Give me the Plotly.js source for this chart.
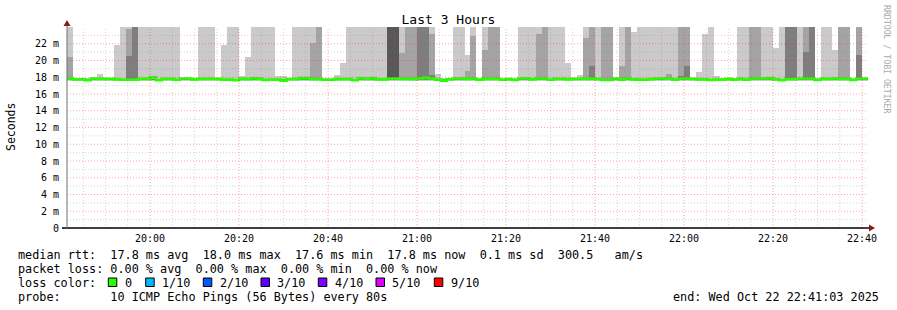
<!DOCTYPE html>
<html><head><meta charset="utf-8">
<script src="https://cdn.plot.ly/plotly-3.0.1.min.js"></script>
<style>html,body{margin:0;padding:0;background:#fff}#chart{width:897px;height:310px}</style>
</head><body><div id="chart"></div>
<script>
// ---------------- data ----------------
const chartDate = '2025-10-22';
const firstColumnStart = '19:41:20';
const stepSeconds = 80;
const columnCount = 135;

// median RTT per 80 s step (ms)
const medianRtt = [
 17.85,17.75,17.75,17.65,17.85,17.8,17.8,17.8,17.75,17.7,17.7,17.7,17.8,17.8,18.0,
 17.65,17.8,17.8,17.7,17.85,17.85,17.75,17.8,17.8,17.8,17.8,17.72,17.72,17.65,17.8,
 17.78,17.88,17.8,17.68,17.72,17.72,17.6,17.78,17.78,17.9,17.9,17.78,17.78,17.7,17.7,
 17.78,17.78,17.78,17.65,17.88,17.8,17.9,17.75,17.75,17.85,17.85,17.8,17.8,17.78,17.88,
 17.95,17.85,17.72,17.6,17.75,17.85,17.85,17.8,17.85,17.7,17.8,17.8,17.8,17.7,17.78,
 17.68,17.85,17.85,17.75,17.85,17.85,17.7,17.8,17.8,17.75,17.8,17.8,17.8,17.85,17.78,
 17.68,17.68,17.85,17.72,17.85,17.75,17.72,17.72,17.78,17.85,17.85,17.82,17.72,17.85,17.85,
 17.8,17.75,17.75,17.68,17.72,17.72,17.8,17.72,17.8,17.72,17.85,17.85,17.85,17.9,17.75,
 17.65,17.78,17.78,17.85,17.85,17.85,17.68,17.8,17.8,17.85,17.8,17.8,17.68,17.85,17.85
];
// slowest ping (10th of 10), ms
const ping10 = [
 30,17.95,17.95,17.95,17.95,18.4,17.95,17.95,21.9,30,30,30,30,30,30,
 30,30,30,30,17.95,17.95,17.95,30,30,30,17.95,21.8,30,30,18.2,
 20.4,30,30,30,30,18.1,18.1,17.95,30,30,30,30,30,17.95,17.95,
 18.3,19.7,30,30,30,30,30,30,30,30,30,30,30,30,30,
 30,30,18.4,17.95,17.95,30,30,20.6,30,17.95,30,30,30,17.95,17.95,
 17.95,30,30,30,30,30,30,30,30,19.7,17.95,18.3,30,30,30,
 30,30,17.95,30,30,23.4,30,30,30,30,30,30,30,30,30,
 17.95,18.65,23.2,30,18.1,17.95,17.95,17.95,30,30,30,30,30,30,21.5,
 30,30,30,30,30,30,17.95,30,30,21.2,30,30,17.95,30,17.95
];
// 9th ping, ms
const ping9 = [
 20.4,17.85,17.85,17.85,17.85,17.85,17.85,17.85,17.85,17.85,23.8,30,17.85,17.85,17.85,
 17.85,17.85,17.85,17.85,17.85,17.85,17.85,17.85,17.85,17.85,17.85,17.85,17.85,17.85,17.85,
 17.85,17.85,17.85,17.85,17.85,17.85,17.85,17.85,17.85,17.85,17.85,22.1,30,17.85,17.85,
 17.85,17.85,17.85,17.85,17.85,17.85,17.85,17.85,17.85,30,30,20.9,30,30,30,
 30,23.2,17.85,17.85,17.85,17.85,17.85,18.7,22.9,17.85,21.3,30,30,17.85,17.85,
 17.85,17.85,17.85,17.85,23.2,30,17.85,17.85,17.85,17.85,17.85,17.85,22.7,30,17.85,
 30,30,17.85,19.4,30,17.85,17.85,17.85,17.85,17.85,17.85,18.4,17.85,30,30,
 17.85,17.85,17.85,17.85,17.85,17.85,17.85,17.85,17.85,17.85,30,30,17.85,17.85,17.85,
 17.85,30,30,17.85,30,30,17.85,17.85,17.85,17.85,30,30,17.85,30,17.85
];
// 8th ping, ms
const ping8 = [
 17.8,17.8,17.8,17.8,17.8,17.8,17.8,17.8,17.8,17.8,20.5,30,17.8,17.8,17.8,
 17.8,17.8,17.8,17.8,17.8,17.8,17.8,17.8,17.8,17.8,17.8,17.8,17.8,17.8,17.8,
 17.8,17.8,17.8,17.8,17.8,17.8,17.8,17.8,17.8,17.8,17.8,17.8,17.8,17.8,17.8,
 17.8,17.8,17.8,17.8,17.8,17.8,17.8,17.8,17.8,30,30,17.8,17.8,17.8,30,
 30,18.3,17.8,17.8,17.8,17.8,17.8,17.8,17.8,17.8,17.8,17.8,17.8,17.8,17.8,
 17.8,17.8,17.8,17.8,17.8,17.8,17.8,17.8,17.8,17.8,17.8,17.8,17.8,19.3,17.8,
 17.8,17.8,17.8,17.8,17.8,17.8,17.8,17.8,17.8,17.8,17.8,17.8,17.8,18.2,19.3,
 17.8,17.8,17.8,17.8,17.8,17.8,17.8,17.8,17.8,17.8,17.8,17.8,17.8,17.8,17.8,
 17.8,30,30,17.8,21.0,30,17.8,17.8,17.8,17.8,17.8,17.8,17.8,20.6,17.8
];
// 7th ping, ms
const ping7 = [
 17.78,17.78,17.78,17.78,17.78,17.78,17.78,17.78,17.78,17.78,17.78,17.78,17.78,17.78,17.78,
 17.78,17.78,17.78,17.78,17.78,17.78,17.78,17.78,17.78,17.78,17.78,17.78,17.78,17.78,17.78,
 17.78,17.78,17.78,17.78,17.78,17.78,17.78,17.78,17.78,17.78,17.78,17.78,17.78,17.78,17.78,
 17.78,17.78,17.78,17.78,17.78,17.78,17.78,17.78,17.78,30,30,17.78,17.78,17.78,17.78,
 17.78,17.78,17.78,17.78,17.78,17.78,17.78,17.78,17.78,17.78,17.78,17.78,17.78,17.78,17.78,
 17.78,17.78,17.78,17.78,17.78,17.78,17.78,17.78,17.78,17.78,17.78,17.78,17.78,17.78,17.78,
 17.78,17.78,17.78,17.78,17.78,17.78,17.78,17.78,17.78,17.78,17.78,17.78,17.78,17.78,17.78,
 17.78,17.78,17.78,17.78,17.78,17.78,17.78,17.78,17.78,17.78,17.78,17.78,17.78,17.78,17.78,
 17.78,17.78,17.78,17.78,17.78,17.78,17.78,17.78,17.78,17.78,17.78,17.78,17.78,17.78,17.78
];
// typical fastest pings (ping1..ping4), ms
const lowerPings = [17.55, 17.7, 17.72, 17.75];

const yTickValues = [0,2,4,6,8,10,12,14,16,18,20,22];
const yTickLabels = ['0','2 m','4 m','6 m','8 m','10 m','12 m','14 m','16 m','18 m','20 m','22 m'];

const legendRtt  = 'median rtt:  17.8 ms avg  18.0 ms max  17.6 ms min  17.8 ms now  0.1 ms sd  300.5   am/s';
const legendLoss = 'packet loss: 0.00 % avg  0.00 % max  0.00 % min  0.00 % now';
const lossLabels = ['0','1/10','2/10','3/10','4/10','5/10','9/10'];
const lossColors = ['#26ff00','#00b8ff','#0059ff','#5e00ff','#7e00ff','#dd00ff','#ff0000'];
const legendProbe = 'probe:       10 ICMP Echo Pings (56 Bytes) every 80s';
const legendEnd = 'end: Wed Oct 22 22:41:03 2025';

// ---------------- styles / geometry ----------------
const smokeColors = ['#cacaca','#a4a4a4','#7e7e7e','#585858'];
const FONT = 'DejaVu Sans Mono';
const PL = 67, PR = 868, PT = 27, PB = 228, W = 897, H = 310;
const px = x => (x - PL) / (PR - PL);
const py = y => (PB - y) / (PB - PT);

function toSec(hms){ const [h,m,s] = hms.split(':').map(Number); return h*3600+m*60+s; }
function fmt(sec){ const p = n => String(n).padStart(2,'0');
  return `${chartDate} ${p(Math.floor(sec/3600))}:${p(Math.floor(sec%3600/60))}:${p(sec%60)}`; }

const startSec = toSec(firstColumnStart);
const colStart = [];
for (let k = 0; k < columnCount; k++) colStart.push(fmt(startSec + k*stepSeconds));
const endTime = fmt(startSec + columnCount*stepSeconds);

const layerTops = [ping10, ping9, ping8, ping7];
const traces = layerTops.map((tops, i) => ({
  type: 'bar', x: colStart, y: tops.map(v => v - lowerPings[i]), base: lowerPings[i],
  width: stepSeconds*1000, offset: 0,
  marker: {color: smokeColors[i], line: {width: 0}}, hoverinfo: 'skip'
}));
traces.push({
  type: 'scatter', mode: 'lines', x: colStart.concat([endTime]),
  y: medianRtt.concat([medianRtt[medianRtt.length-1]]),
  line: {color: lossColors[0], width: 2.6, shape: 'hv'}, hoverinfo: 'skip'
});

// grid (drawn above the smoke like rrdtool)
const shapes = [];
const minorGrid = 'rgba(128,128,128,0.32)', majorGrid = 'rgba(255,40,40,0.42)';
for (let s = toSec('19:45:00'); s <= toSec('22:40:00'); s += 300) {
  const major = (s % 1200) === 0;
  shapes.push({type:'line', xref:'x', yref:'paper', x0: fmt(s), x1: fmt(s), y0: 0, y1: 1, layer: 'above',
    line: {color: major ? majorGrid : minorGrid, width: 1, dash: '1px,2px'}});
}
for (let v = 1; v <= 23; v++) {
  const major = v % 2 === 0;
  shapes.push({type:'line', xref:'paper', yref:'y', x0: 0, x1: 1, y0: v, y1: v, layer: 'above',
    line: {color: major ? majorGrid : minorGrid, width: 1, dash: '1px,2px'}});
}
// axes lines + arrows
shapes.push({type:'line', xref:'paper', yref:'paper', x0: px(62), x1: px(870), y0: 0, y1: 0, layer:'above',
  line: {color: '#000', width: 1.5}});
shapes.push({type:'line', xref:'paper', yref:'paper', x0: 0, x1: 0, y0: 0, y1: py(24), layer:'above',
  line: {color: '#707070', width: 1}});
shapes.push({type:'path', xref:'paper', yref:'paper', layer:'above', fillcolor:'#8b1a1a', line:{width:0},
  path: `M ${px(67)},${py(20)} L ${px(63.5)},${py(26)} L ${px(70.5)},${py(26)} Z`});
shapes.push({type:'path', xref:'paper', yref:'paper', layer:'above', fillcolor:'#8b1a1a', line:{width:0},
  path: `M ${px(875)},${py(228)} L ${px(869)},${py(224.5)} L ${px(869)},${py(231.5)} Z`});

// legend squares
const squareX = [108.3, 145.7, 203.3, 261, 318.3, 376, 434.3];
const annotations = [];
lossColors.forEach((c, i) => {
  shapes.push({type:'rect', xref:'paper', yref:'paper', x0: px(squareX[i]), x1: px(squareX[i]+8.5),
    y0: py(278), y1: py(286.5), fillcolor: c, line: {color: '#000', width: 1}});
  annotations.push({xref:'paper', yref:'paper', x: px(squareX[i]+14.3), y: py(282.5), xanchor:'left', yanchor:'middle',
    text: lossLabels[i], showarrow:false, font:{family: FONT, size: 11.8, color:'#000'}});
});
const legendFont = {family: FONT, size: 11.8, color: '#000'};
[[legendRtt, 254.5], [legendLoss, 268.5], ['loss color:', 282.5], [legendProbe, 296.5]].forEach(([t, y]) => {
  annotations.push({xref:'paper', yref:'paper', x: px(16), y: py(y), xanchor:'left', yanchor:'middle',
    text: t.replace(/ /g,'&nbsp;'), showarrow:false, font: legendFont});
});
annotations.push({xref:'paper', yref:'paper', x: px(881), y: py(296.5), xanchor:'right', yanchor:'middle',
  text: legendEnd.replace(/ /g,'&nbsp;'), showarrow:false, font: legendFont});
annotations.push({xref:'paper', yref:'paper', x: px(11), y: py(127), xanchor:'center', yanchor:'middle',
  text: 'Seconds', textangle: -90, showarrow:false, font:{family: FONT, size: 11.5, color:'#000'}});
annotations.push({xref:'paper', yref:'paper', x: px(887), y: py(59), xanchor:'center', yanchor:'middle',
  text: 'RRDTOOL / TOBI OETIKER', textangle: 90, showarrow:false, font:{family: FONT, size: 8.2, color:'#aaaaaa'}});

const layout = {
  width: W, height: H, margin: {l: PL, r: W-PR, t: PT, b: H-PB, pad: 0},
  paper_bgcolor: '#fff', plot_bgcolor: '#fff', showlegend: false,
  barmode: 'overlay', bargap: 0,
  title: {text: 'Last 3 Hours', font: {family: FONT, size: 13, color: '#000'},
    x: 0.5, xref: 'container', xanchor: 'center', y: 1 - 19.5/H, yref: 'container', yanchor: 'middle'},
  xaxis: {type: 'date', range: [colStart[0], endTime], tickmode: 'linear', tick0: chartDate + ' 20:00:00',
    dtick: 20*60*1000, tickformat: '%H:%M', showgrid: false, zeroline: false, showline: false,
    ticks: 'outside', ticklen: 1, tickcolor: 'rgba(0,0,0,0)', tickfont: {family: FONT, size: 10, color: '#000'}, fixedrange: true},
  yaxis: {range: [0, 24], tickmode: 'array', tickvals: yTickValues, ticktext: yTickLabels,
    showgrid: false, zeroline: false, showline: false, ticks: 'outside', ticklen: 5, tickcolor: 'rgba(0,0,0,0)',
    tickfont: {family: FONT, size: 10, color: '#000'}, fixedrange: true},
  shapes: shapes, annotations: annotations
};
Plotly.newPlot('chart', traces, layout, {displayModeBar: false, staticPlot: true});
</script></body></html>
